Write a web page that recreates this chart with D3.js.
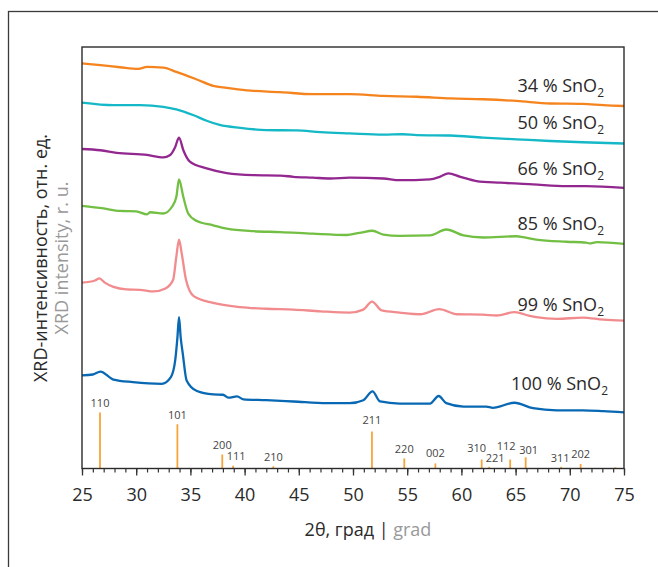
<!DOCTYPE html>
<html>
<head>
<meta charset="utf-8">
<script src="https://cdn.jsdelivr.net/npm/d3@7"></script>
<style>
  body { margin: 0; background: #fff; }
  svg text { font-family: "Open Sans", "Noto Sans", sans-serif; }
</style>
</head>
<body>
<svg id="chart" width="658" height="567"></svg>
<script>
// XRD patterns, 2θ (deg) vs intensity (arb. units, offset stacked)
var s34 = [[25.0,96.1],[26.7,95.7],[28.5,95.2],[30.2,94.8],[31.0,95.3],[32.5,95.1],[33.7,94.1],[35.6,92.3],[37.1,90.8],[38.35,90.3],[40.2,89.7],[43.3,89.3],[46.3,88.8],[49.7,88.8],[52.8,88.4],[55.9,88.2],[59.0,87.8],[62.0,87.6],[65.1,87.2],[68.2,86.6],[71.2,86.5],[73.1,86.2],[75.0,86.0]];
var s50 = [[25.0,86.8],[27.9,86.2],[30.35,86.2],[32.5,85.8],[33.7,85.2],[35.3,83.8],[36.5,82.5],[37.7,81.5],[39.6,80.8],[42.0,80.3],[44.8,80.2],[47.0,79.8],[49.7,79.5],[52.8,79.2],[54.6,79.3],[55.9,79.1],[59.0,79.0],[62.0,78.5],[65.1,78.1],[68.2,77.7],[71.2,77.4],[75.0,77.1]];
var s66 = [[25.0,75.8],[26.7,75.5],[28.2,74.9],[31.0,74.4],[32.5,73.8],[33.1,74.3],[33.6,76.3],[33.95,78.5],[34.35,75.5],[34.95,72.8],[36.5,71.2],[38.35,70.1],[40.8,69.6],[43.3,69.5],[44.5,69.2],[46.3,69.0],[47.9,68.8],[49.7,69.0],[52.8,68.8],[54.3,68.4],[57.1,68.6],[58.0,69.2],[58.8,70.0],[59.9,69.2],[61.4,68.2],[63.6,67.8],[66.6,67.4],[69.7,67.0],[71.5,67.0],[75.0,66.6]];
var s85 = [[25.0,62.3],[27.0,61.7],[28.5,61.1],[30.0,61.0],[31.0,60.3],[31.3,60.8],[32.5,60.5],[33.3,62.1],[33.7,64.4],[33.95,68.6],[34.35,64.4],[34.8,60.5],[35.6,58.7],[37.1,57.7],[38.35,56.9],[40.8,56.3],[43.3,56.1],[46.3,55.7],[49.4,55.4],[50.6,55.9],[51.8,56.4],[52.8,55.5],[54.3,55.2],[57.1,55.3],[58.6,56.7],[60.2,55.3],[62.0,54.8],[65.1,55.1],[65.7,54.9],[66.9,54.3],[69.7,53.8],[71.5,53.6],[71.8,53.4],[72.5,53.7],[75.0,53.3]];
var s99 = [[25.0,44.1],[26.2,44.6],[26.6,45.1],[27.1,44.1],[27.9,43.1],[29.1,42.5],[30.35,42.4],[31.6,42.0],[32.7,42.7],[33.4,44.7],[33.7,50.2],[33.95,54.3],[34.2,51.0],[34.6,44.7],[35.3,40.9],[37.1,39.3],[39.6,38.3],[42.0,37.9],[44.5,37.7],[47.0,37.3],[49.7,37.0],[50.95,37.7],[51.75,39.6],[52.65,37.5],[54.3,37.0],[56.2,36.6],[57.96,37.8],[59.6,36.6],[62.0,36.5],[63.25,36.3],[64.9,37.1],[66.3,36.2],[66.9,35.9],[68.8,35.5],[71.2,35.8],[73.1,35.3],[75.0,35.1]];
var s100 = [[25.0,22.1],[26.0,22.3],[26.7,23.0],[27.9,21.1],[29.7,20.5],[32.35,20.1],[33.2,21.7],[33.6,25.7],[33.8,31.0],[33.95,35.9],[34.1,31.2],[34.3,27.2],[34.65,20.9],[35.6,18.4],[37.1,17.6],[38.0,17.5],[38.5,16.8],[39.3,17.1],[39.9,16.4],[42.0,16.2],[44.5,15.9],[47.6,15.5],[49.7,15.5],[50.95,16.2],[51.8,18.3],[52.5,15.9],[54.3,15.4],[57.1,15.4],[57.9,17.2],[58.6,15.5],[60.2,14.7],[62.3,14.7],[62.9,14.4],[64.9,15.6],[66.6,14.3],[68.8,13.8],[71.2,13.8],[73.1,13.6],[75.0,13.3]];

var seriesNames = ["34 % SnO", "50 % SnO", "66 % SnO", "85 % SnO", "99 % SnO", "100 % SnO"];
var seriesColors = ["#f5841f", "#14b8c6", "#92278f", "#72bf44", "#f28b8d", "#0868b3"];
var seriesData = [s34, s50, s66, s85, s99, s100];

// SnO2 reference (cassiterite) reflections
var hkl = ["110","101","200","111","210","211","220","002","310","221","112","301","311","202",""];
var stickPos = [26.66, 33.8, 37.94, 38.94, 42.65, 51.75, 54.73, 57.6, 61.87, 62.56, 64.5, 65.93, 69.2, 71.0, 74.2];
var stickInt = [100, 79, 25, 5, 4, 66, 18, 9, 16, 3, 16, 20, 3, 8, 2];

var xTicks = [25, 30, 35, 40, 45, 50, 55, 60, 65, 70, 75];

var svg = d3.select("#chart");
var pLeft = 82, pRight = 624, pTop = 47, pBottom = 468.5;

svg.append("rect").attr("width", 658).attr("height", 567).attr("fill", "#fff");
// outer figure frame
svg.append("rect")
  .attr("x", 8.5).attr("y", 11.5).attr("width", 700).attr("height", 700)
  .attr("fill", "none").attr("stroke", "#3a3a3a").attr("stroke-width", 1.3);

var x = d3.scaleLinear().domain([25, 75]).range([pLeft, pRight]);
var y = d3.scaleLinear().domain([0, 100]).range([pBottom, pTop]);
var yStick = d3.scaleLinear().domain([0, 100]).range([pBottom, pBottom - 56]);

// minor ticks
svg.append("g")
  .attr("transform", "translate(0," + pBottom + ")")
  .call(d3.axisBottom(x).tickValues(d3.range(25, 76, 1)).tickSize(4).tickFormat(""))
  .call(function(g) { g.select(".domain").remove(); })
  .selectAll("line").attr("stroke", "#333").attr("stroke-width", 1.2);

// major ticks
var xAxis = svg.append("g")
  .attr("transform", "translate(0," + pBottom + ")")
  .call(d3.axisBottom(x).tickValues(xTicks).tickSize(7).tickPadding(13).tickFormat(d3.format("d")));
xAxis.select(".domain").remove();
xAxis.selectAll("line").attr("stroke", "#333").attr("stroke-width", 1.3);
xAxis.selectAll("text").attr("font-size", 18).attr("fill", "#2a2a2a")
  .style("font-family", "'Open Sans', sans-serif");

// reference sticks
svg.append("g").selectAll("line")
  .data(stickPos)
  .enter().append("line")
  .attr("x1", function(d) { return x(d); })
  .attr("x2", function(d) { return x(d); })
  .attr("y1", pBottom)
  .attr("y2", function(d, i) { return yStick(stickInt[i]); })
  .attr("stroke", "#f7a43a")
  .attr("stroke-width", 1.8);

// label nudges so the hkl labels don't collide
var nudge = {"111": [3, 0], "310": [-5, -2], "221": [6, 1], "112": [-4, -4], "301": [3, 2], "211": [0, -2], "202": [0, -1], "002": [0, -1], "311": [-1, 1]};
svg.append("g").selectAll("text")
  .data(stickPos)
  .enter().append("text")
  .attr("x", function(d, i) { return x(d) + (nudge[hkl[i]] ? nudge[hkl[i]][0] : 0); })
  .attr("y", function(d, i) { return yStick(stickInt[i]) - 5.5 + (nudge[hkl[i]] ? nudge[hkl[i]][1] : 0); })
  .attr("text-anchor", "middle")
  .attr("font-size", 11)
  .attr("fill", "#444")
  .text(function(d, i) { return hkl[i]; });

// patterns
var line = d3.line()
  .x(function(d) { return x(d[0]); })
  .y(function(d) { return y(d[1]); })
  .curve(d3.curveMonotoneX);

svg.append("g").selectAll("path")
  .data(seriesData)
  .enter().append("path")
  .attr("d", line)
  .attr("fill", "none")
  .attr("stroke", function(d, i) { return seriesColors[i]; })
  .attr("stroke-width", 2.3)
  .attr("stroke-linejoin", "round");

// series labels
var labelShift = [[-20, -14], [-20, -15], [-20, -13], [-20, -14], [-20, -10], [-16, -22]];
var lbl = svg.append("g").selectAll("text")
  .data(seriesData)
  .enter().append("text")
  .attr("x", function(d, i) { return x(75) + labelShift[i][0]; })
  .attr("y", function(d, i) { return y(d[d.length - 1][1]) + labelShift[i][1]; })
  .attr("text-anchor", "end")
  .attr("font-size", 18)
  .attr("fill", "#2a2a2a");
lbl.append("tspan").text(function(d, i) { return seriesNames[i]; });
lbl.append("tspan").attr("font-size", 12).attr("dy", 5).text("2");

// plot frame
svg.append("rect")
  .attr("x", pLeft).attr("y", pTop)
  .attr("width", pRight - pLeft).attr("height", pBottom - pTop)
  .attr("fill", "none").attr("stroke", "#2b2b2b").attr("stroke-width", 1.4);

// axis titles
var xt = svg.append("text")
  .attr("x", 368).attr("y", 536)
  .attr("text-anchor", "middle")
  .attr("font-size", 18)
  .attr("fill", "#2a2a2a");
xt.append("tspan").text("2θ, град | ");
xt.append("tspan").attr("fill", "#999").text("grad");

svg.append("text")
  .attr("transform", "translate(47,258) rotate(-90)")
  .attr("text-anchor", "middle")
  .attr("font-size", 18)
  .attr("fill", "#2a2a2a")
  .text("XRD-интенсивность, отн. ед.");
svg.append("text")
  .attr("transform", "translate(68,258) rotate(-90)")
  .attr("text-anchor", "middle")
  .attr("font-size", 18)
  .attr("fill", "#999")
  .text("XRD intensity, r. u.");
</script>
</body>
</html>
